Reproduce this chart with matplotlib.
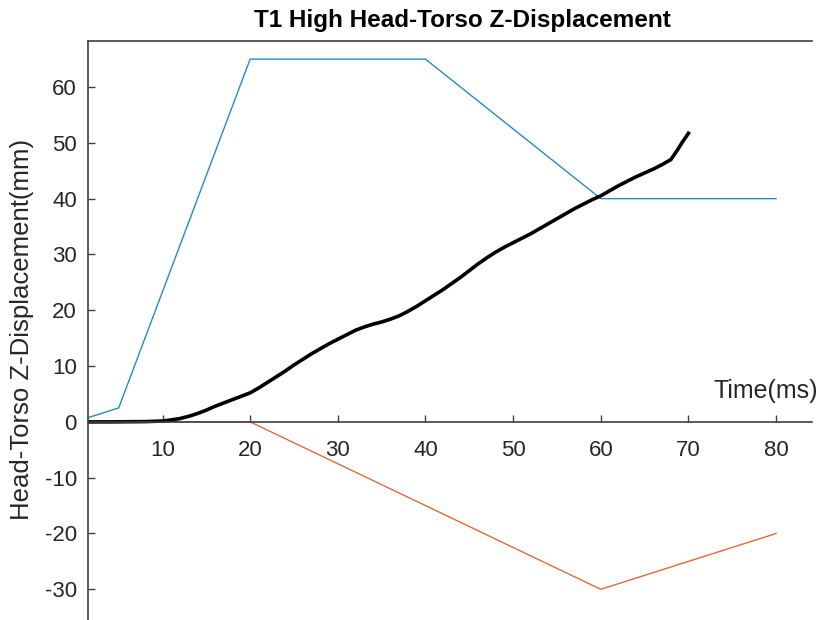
import matplotlib
matplotlib.use("Agg")
import matplotlib.pyplot as plt

plt.rcParams['font.family'] = ['Liberation Sans', 'DejaVu Sans']
plt.rcParams['axes.unicode_minus'] = False

# corridor limits (upper / lower) and the measured head-torso response
upper_t = [0, 5, 20, 40, 60, 80]
upper_z = [0, 2.5, 65, 65, 40, 40]
lower_t = [0, 20, 60, 80]
lower_z = [0, 0, -30, -20]

resp_t = [0, 4, 8, 10, 11, 12, 13, 14, 15, 16, 17, 18, 19, 20, 21, 22, 23,
          24, 25, 26, 27, 28, 29, 30, 31, 32, 33, 34, 35, 36, 37, 38, 39,
          40, 41, 42, 43, 44, 45, 46, 47, 48, 49, 50, 51, 52, 53, 54, 55,
          56, 57, 58, 59, 60, 61, 62, 63, 64, 65, 66, 67, 68, 68.7, 69.3, 70]
resp_z = [0, 0, 0.05, 0.15, 0.35, 0.6, 1.0, 1.5, 2.1, 2.8, 3.4, 4.0, 4.6,
          5.2, 6.1, 7.1, 8.1, 9.1, 10.2, 11.2, 12.2, 13.1, 14.0, 14.8, 15.6,
          16.4, 17.0, 17.5, 17.9, 18.4, 19.0, 19.8, 20.7, 21.7, 22.7, 23.7,
          24.8, 25.9, 27.1, 28.3, 29.4, 30.4, 31.3, 32.1, 32.9, 33.7, 34.6,
          35.5, 36.4, 37.3, 38.2, 39.0, 39.8, 40.5, 41.4, 42.3, 43.1, 43.9,
          44.6, 45.3, 46.1, 47.0, 48.6, 50.1, 51.7]

x_ticks = [10, 20, 30, 40, 50, 60, 70, 80]
y_ticks = [-30, -20, -10, 0, 10, 20, 30, 40, 50, 60]

AXIS_GRAY = '#404040'
TEXT_GRAY = '#262626'

fig = plt.figure(figsize=(8.16, 6.2), dpi=100)
ax = fig.add_axes([88 / 816, 0.0, (812 - 88) / 816, 1 - 40.7 / 620])

ax.plot(upper_t, upper_z, color='#2a88c8', lw=1.0)
ax.plot(lower_t, lower_z, color='#de6b3a', lw=1.0)
ax.plot(resp_t, resp_z, color='black', lw=2.6, solid_joinstyle='round')

ax.set_xlim(1.5, 84.1)
ax.set_ylim(-35.5, 68.3)
ax.set_xticks(x_ticks)
ax.set_yticks(y_ticks)

ax.spines['bottom'].set_position(('data', 0))
ax.spines['right'].set_visible(False)
for side in ['bottom', 'left', 'top']:
    ax.spines[side].set_color(AXIS_GRAY)
    ax.spines[side].set_linewidth(1.2)

ax.tick_params(axis='both', direction='in', colors=AXIS_GRAY,
               labelcolor=TEXT_GRAY, labelsize=16, length=5, width=1)
ax.tick_params(axis='x', pad=13)
ax.tick_params(axis='y', pad=8)

fig.text(22 / 816, 1 - 329 / 620, 'Head-Torso Z-Displacement(mm)',
         rotation=90, ha='center', va='center', fontsize=18.5,
         color=TEXT_GRAY)
fig.text(1.002, 1 - 398 / 620, 'Time(ms)', ha='right', va='baseline',
         fontsize=18, color=TEXT_GRAY)

fig.text(462 / 816, 1 - 27 / 620, 'T1 High Head-Torso Z-Displacement',
         ha='center', va='baseline', fontsize=17.5, fontweight='bold')

fig.savefig('out.png', dpi=100)
